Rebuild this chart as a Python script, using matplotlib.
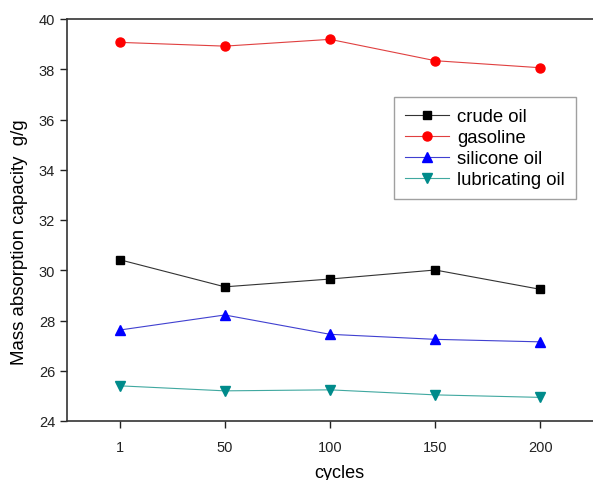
import matplotlib.pyplot as plt
import numpy as np

plt.rcParams['font.family'] = ['Liberation Sans', 'DejaVu Sans']

cycles = ['1', '50', '100', '150', '200']
crude_oil = [30.42, 29.34, 29.65, 30.01, 29.24]
gasoline = [39.07, 38.92, 39.19, 38.34, 38.06]
silicone_oil = [27.62, 28.22, 27.45, 27.25, 27.15]
lubricating_oil = [25.40, 25.20, 25.24, 25.04, 24.94]

x = np.arange(len(cycles))

fig = plt.figure(figsize=(5.93, 4.81), dpi=100)
ax = fig.add_axes([67 / 593, (481 - 422) / 481, 1 - 67 / 593, (422 - 20) / 481])

ax.plot(x, crude_oil, color='#333333', lw=0.8, marker='s', ms=5.5,
        mfc='black', mec='black', label='crude oil')
ax.plot(x, gasoline, color='#e04040', lw=0.8, marker='o', ms=6.5,
        mfc='#ff0000', mec='#ff0000', label='gasoline')
ax.plot(x, silicone_oil, color='#4040d0', lw=0.8, marker='^', ms=6.5,
        mfc='#0000ff', mec='#0000ff', label='silicone oil')
ax.plot(x, lubricating_oil, color='#40a8a0', lw=0.8, marker='v', ms=6.5,
        mfc='#008b8b', mec='#008b8b', label='lubricating oil')

ax.set_xlim(-0.5, 4.5)
ax.set_ylim(24, 40)
ax.set_xticks(x)
ax.set_xticklabels(cycles)
ax.set_yticks(np.arange(24, 41, 2))
ax.tick_params(direction='out', length=5, width=1, labelsize=10.5, colors='#222222')
ax.tick_params(axis='x', pad=9)
ax.tick_params(axis='y', pad=3.5)
for s in ax.spines.values():
    s.set_linewidth(1.2)
    s.set_color('#333333')
ax.spines['right'].set_visible(False)

ax.set_xlabel('cycles', fontsize=13)
ax.set_ylabel('Mass absorption capacity  g/g', fontsize=13.4)
ax.xaxis.set_label_coords((339 - 67) / 526, -(465 - 422) / 402, transform=ax.transAxes)
ax.yaxis.set_label_coords(-(67 - 28) / 526, (422 - 242) / 402, transform=ax.transAxes)

leg = ax.legend(loc='upper left', bbox_to_anchor=((394 - 67) / 526, (422 - 98) / 402),
                fontsize=13.3, frameon=True, fancybox=False, edgecolor='#888888',
                handlelength=2.4, borderpad=0.6, labelspacing=0.22,
                handletextpad=0.4, borderaxespad=0)
leg.get_frame().set_linewidth(1.0)

fig.savefig('out.png', dpi=100)
